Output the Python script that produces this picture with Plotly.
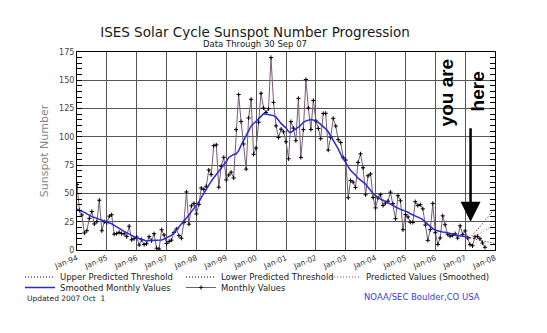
import plotly.graph_objects as go
import pandas as pd

# ---------------- data ----------------
monthly_values = [
    # 1994
    57.9, 35.0, 31.0, 15.0, 17.0, 28.0, 34.0, 23.0, 25.0, 44.0, 17.0, 25.0,
    # 1995
    24.2, 29.9, 31.1, 14.0, 14.5, 15.6, 14.5, 14.3, 11.8, 21.1, 9.0, 10.0,
    # 1996
    11.5, 4.4, 9.2, 4.8, 5.5, 11.8, 8.2, 14.4, 1.6, 0.9, 17.9, 13.3,
    # 1997
    5.7, 7.6, 8.7, 15.5, 18.5, 12.7, 10.4, 24.4, 51.3, 22.8, 39.0, 41.2,
    # 1998
    31.9, 40.3, 54.8, 53.4, 56.3, 70.7, 66.6, 92.2, 92.9, 55.5, 74.0, 81.9,
    # 1999
    62.0, 66.3, 68.8, 63.7, 106.4, 137.4, 113.5, 93.7, 71.5, 116.7, 133.2, 84.6,
    # 2000
    90.1, 112.9, 138.5, 125.5, 121.6, 124.9, 170.1, 130.5, 109.7, 99.4, 106.8, 104.4,
    # 2001
    95.6, 80.6, 113.5, 107.7, 96.6, 134.0, 81.8, 106.4, 150.7, 125.5, 106.5, 132.2,
    # 2002
    114.1, 107.4, 98.4, 120.7, 120.8, 88.3, 99.6, 116.4, 109.6, 97.5, 95.0, 81.6,
    # 2003
    79.5, 46.2, 61.5, 60.0, 55.2, 77.4, 85.0, 72.7, 48.8, 65.6, 67.2, 46.5,
    # 2004
    37.2, 46.0, 48.9, 39.3, 41.5, 43.2, 51.1, 40.9, 27.7, 48.0, 43.5, 17.9,
    # 2005
    31.3, 29.2, 24.5, 24.4, 42.7, 39.3, 40.1, 36.4, 22.1, 8.5, 18.0, 41.2,
    # 2006
    15.3, 4.9, 10.6, 30.2, 22.3, 13.9, 12.2, 12.9, 14.4, 10.5, 21.4, 13.6,
    # 2007
    16.9, 10.6, 4.8, 3.7, 11.7, 12.0, 10.0, 6.2, 2.4,
]

smoothed_values = [
    36.0, 35.3, 34.4, 33.2, 31.8, 30.5, 29.5, 28.8, 28.0, 27.1, 26.5, 25.9,
    25.3, 24.5, 23.2, 21.8, 20.7, 19.4, 17.8, 16.4, 15.4, 14.3, 13.0, 11.7,
    10.5, 10.1, 9.6, 8.8, 8.0, 8.4, 8.4, 8.5, 8.5, 8.2, 8.8, 9.7,
    10.6, 11.4, 12.9, 15.0, 17.5, 20.0, 22.6, 25.2, 28.0, 31.0, 33.9, 36.6,
    39.5, 42.6, 46.2, 50.1, 53.8, 57.4, 60.8, 63.9, 66.7, 69.0, 71.9, 74.8,
    78.2, 81.8, 83.3, 84.5, 84.8, 87.6, 92.5, 97.2, 101.2, 105.3, 109.6, 111.7,
    113.2, 115.5, 118.1, 120.5, 120.2, 119.4, 119.2, 118.8, 117.4, 114.3, 111.9, 109.7,
    107.8, 104.6, 104.0, 105.5, 106.8, 108.5, 110.3, 112.8, 114.1, 114.6, 115.4, 114.9,
    114.0, 112.8, 111.0, 109.2, 107.1, 104.5, 101.0, 97.6, 93.9, 89.3, 84.6, 80.7,
    77.0, 73.4, 70.5, 68.5, 66.0, 63.5, 61.8, 60.5, 58.2, 55.5, 52.6, 50.0,
    48.0, 46.2, 45.0, 44.0, 43.0, 41.8, 40.6, 39.4, 38.0, 36.7, 35.9, 35.2,
    34.4, 33.4, 32.0, 30.8, 29.8, 29.1, 28.2, 26.8, 24.6, 22.5, 20.6, 18.9,
    17.5, 16.8, 16.3, 16.0, 15.7, 15.2, 15.0, 14.3, 13.4, 12.8, 12.6, 12.3,
    11.9, 11.4, 10.8,
]

# predictions, monthly from Mar 2007 to Jan 2008
predicted_values = [10.8, 11.5, 12.5, 13.6, 14.8, 16.0, 17.4, 18.8, 20.3, 21.9, 23.5]
upper_threshold = [10.8, 13.0, 15.5, 18.0, 20.6, 23.2, 25.9, 28.6, 31.3, 34.0, 36.8]
lower_threshold = [10.8, 10.2, 9.6, 9.0, 8.5, 8.0, 7.5, 7.0, 6.6, 6.2, 5.8]

monthly_dates = pd.date_range("1994-01-01", periods=len(monthly_values), freq="MS").strftime("%Y-%m-%d").tolist()
smoothed_dates = pd.date_range("1994-01-01", periods=len(smoothed_values), freq="MS").strftime("%Y-%m-%d").tolist()
pred_dates = pd.date_range("2007-03-01", periods=len(predicted_values), freq="MS").strftime("%Y-%m-%d").tolist()

FONT = "DejaVu Sans"
DOT = "1px,2px"

fig = go.Figure()

fig.add_trace(go.Scatter(
    x=monthly_dates, y=monthly_values, mode="lines+markers", name="Monthly Values",
    line=dict(color="#7a5a7a", width=1),
    marker=dict(symbol="cross-thin", size=3, color="black", line=dict(color="black", width=1)),
    legend="legend6"))
fig.add_trace(go.Scatter(
    x=smoothed_dates, y=smoothed_values, mode="lines", name="Smoothed Monthly Values",
    line=dict(color="#2a2ad8", width=1.5), legend="legend5"))
fig.add_trace(go.Scatter(
    x=pred_dates, y=upper_threshold, mode="lines", name="Upper Predicted Threshold",
    line=dict(color="black", width=1, dash=DOT), legend="legend2"))
fig.add_trace(go.Scatter(
    x=pred_dates, y=lower_threshold, mode="lines", name="Lower Predicted Threshold",
    line=dict(color="black", width=1, dash=DOT), legend="legend3"))
fig.add_trace(go.Scatter(
    x=pred_dates, y=predicted_values, mode="lines", name="Predicted Values (Smoothed)",
    line=dict(color="#e03030", width=1, dash=DOT), legend="legend4"))

L, R, T, B = 77, 52, 52, 83
W, H = 547, 333
PW, PH = W - L - R, H - T - B


def px_x(p):
    return (p - L) / PW


def px_y(p):
    return (H - B - p) / PH


leg_font = dict(family=FONT, size=8.5, color="#222")


def leg(xp, yp):
    return dict(x=px_x(xp), y=px_y(yp), xanchor="left", yanchor="middle",
                bgcolor="rgba(0,0,0,0)", borderwidth=0, font=leg_font,
                orientation="v", tracegroupgap=0)


fig.update_layout(
    width=W, height=H, autosize=False,
    margin=dict(l=L, r=R, t=T, b=B),
    paper_bgcolor="white", plot_bgcolor="white",
    title=dict(text="ISES Solar Cycle Sunspot Number Progression",
               x=255 / W, xanchor="center", y=1 - 32 / H, yanchor="middle",
               font=dict(family=FONT, size=13.5, color="#1a1a1a")),
    legend=dict(visible=False),
    legend2=leg(20, 277),
    legend3=leg(181, 277),
    legend4=leg(326, 277),
    legend5=leg(20, 287.5),
    legend6=leg(181, 287.5),
    xaxis=dict(type="date", range=["1994-01-01", "2008-01-01"],
               tick0="1994-01-01", dtick="M12", tickformat="%b-%y",
               tickangle=-22, tickfont=dict(family=FONT, size=7.5, color="#333"),
               showgrid=True, gridcolor="#555", gridwidth=1,
               showline=True, linecolor="black", linewidth=1, mirror=True,
               ticks="", zeroline=False),
    yaxis=dict(range=[0, 175], tick0=0, dtick=25,
               tickfont=dict(family=FONT, size=8, color="#444"),
               showgrid=True, gridcolor="#555", gridwidth=1,
               ticks="inside", ticklen=5, tickcolor="black",
               minor=dict(dtick=5, ticks="inside", ticklen=5, tickcolor="black", showgrid=False),
               showline=True, linecolor="black", linewidth=1, mirror="allticks",
               zeroline=False,
               title=dict(text="Sunspot Number", standoff=8,
                          font=dict(family=FONT, size=11, color="#888"))),
)

fig.add_annotation(text="Data Through 30 Sep 07", xref="paper", yref="paper",
                   x=px_x(255), y=px_y(44), xanchor="center", yanchor="middle",
                   showarrow=False, font=dict(family=FONT, size=8.5, color="#222"))
fig.add_annotation(text="you are", xref="x", yref="y", x="2006-05-20", y=139,
                   textangle=-90, showarrow=False,
                   font=dict(family="Liberation Sans", size=19, color="black", weight="bold"))
fig.add_annotation(text="here", xref="x", yref="y", x="2007-06-05", y=140,
                   textangle=-90, showarrow=False,
                   font=dict(family="Liberation Sans", size=19, color="black", weight="bold"))
fig.add_annotation(text="", xref="x", yref="y", x="2007-03-08", y=25.0,
                   ax=0, ay=-95, showarrow=True, arrowhead=2, arrowsize=1.6,
                   arrowwidth=2.5, arrowcolor="black")
fig.add_annotation(text="Updated 2007 Oct\u00a0 1", xref="paper", yref="paper",
                   x=px_x(25), y=px_y(298), xanchor="left", yanchor="middle",
                   showarrow=False, font=dict(family=FONT, size=7.5, color="#222"))
fig.add_annotation(text="NOAA/SEC Boulder,CO USA", xref="paper", yref="paper",
                   x=px_x(362), y=px_y(297), xanchor="left", yanchor="middle",
                   showarrow=False, font=dict(family=FONT, size=8.5, color="#3b3bd0"))

fig.write_html("out.html")
